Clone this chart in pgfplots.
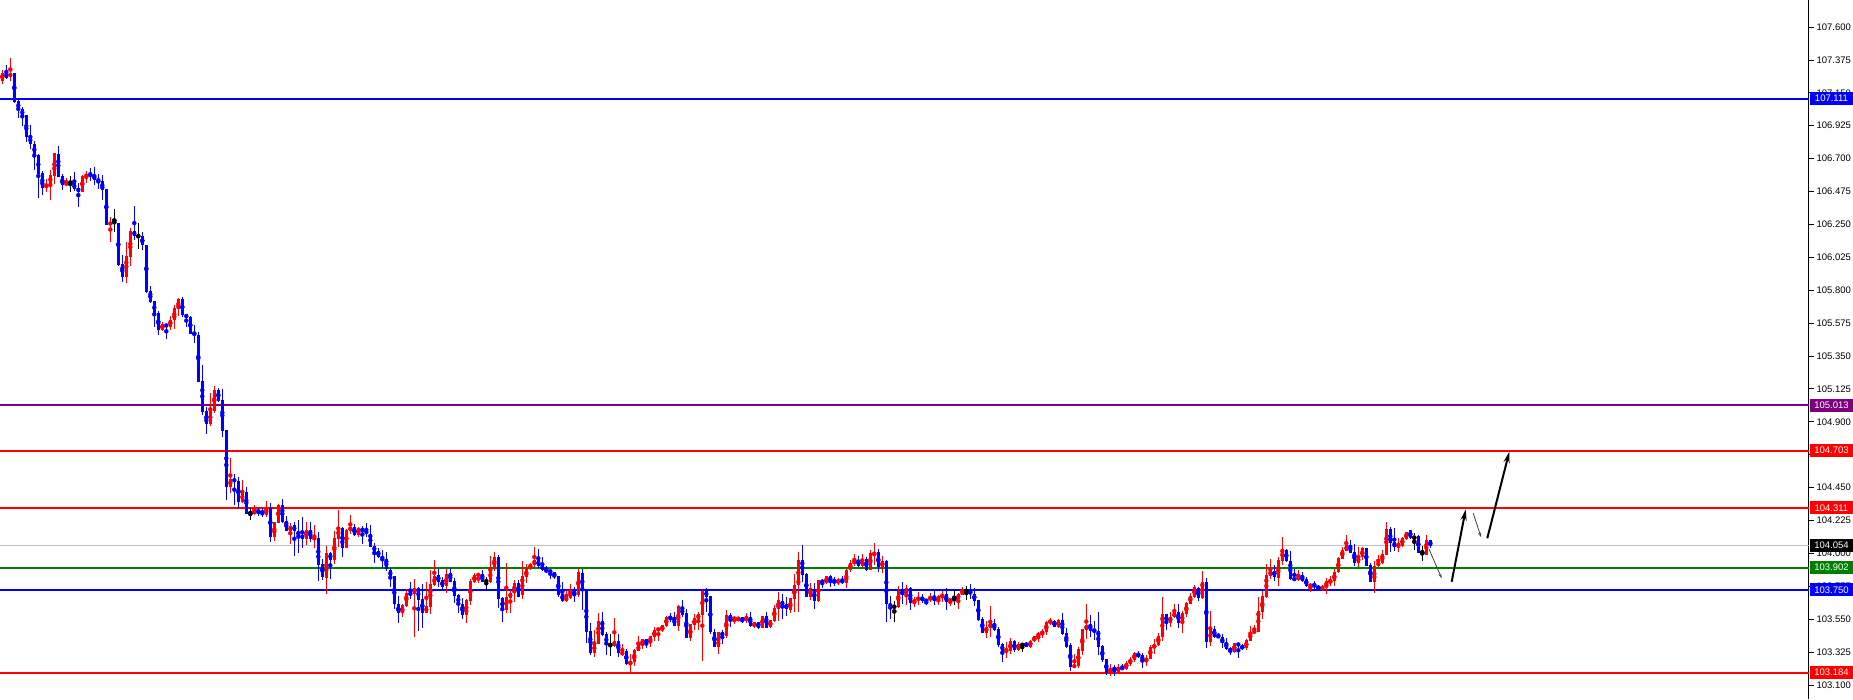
\documentclass[border=0pt]{standalone}
\usepackage{fontspec}
\setmainfont{Liberation Sans}
\usepackage{pgfplots}
\pgfplotsset{compat=1.18}
\usepackage{pgfplotstable}
\usetikzlibrary{arrows.meta}

\definecolor{mtred}{RGB}{255,0,0}
\definecolor{mtblue}{RGB}{0,0,255}
\definecolor{mtgreen}{RGB}{0,128,0}
\definecolor{mtpurple}{RGB}{128,0,128}
\definecolor{mtgray}{RGB}{192,192,192}

% candle index, open, high, low, close
\pgfplotstableread{
i o h l c
0 107.233 107.306 107.212 107.290
1 107.290 107.340 107.247 107.253
2 107.260 107.388 107.233 107.285
3 107.285 107.285 107.082 107.089
4 107.094 107.101 106.980 107.034
5 107.039 107.053 106.925 106.993
6 106.998 106.998 106.816 106.850
7 106.854 106.930 106.768 106.802
8 106.804 106.820 106.624 106.720
9 106.724 106.731 106.433 106.597
10 106.601 106.613 106.453 106.503
11 106.501 106.558 106.474 106.526
12 106.528 106.622 106.419 106.588
13 106.583 106.738 106.528 106.738
14 106.731 106.786 106.576 106.576
15 106.581 106.594 106.487 106.521
16 106.521 106.567 106.515 106.540
17 106.537 106.581 106.474 106.528
18 106.533 106.608 106.483 106.492
19 106.499 106.531 106.371 106.474
20 106.471 106.590 106.469 106.583
21 106.576 106.615 106.535 106.594
22 106.594 106.638 106.549 106.581
23 106.588 106.642 106.521 106.556
24 106.563 106.597 106.492 106.544
25 106.547 106.590 106.419 106.487
26 106.492 106.492 106.248 106.248
27 106.248 106.300 106.132 106.266
28 106.266 106.355 106.200 106.262
29 106.259 106.259 105.965 105.972
30 105.979 106.040 105.858 105.890
31 105.890 106.129 105.851 106.034
32 106.029 106.227 105.967 106.207
33 106.205 106.378 106.141 106.173
34 106.168 106.259 106.084 106.168
35 106.175 106.198 106.077 106.107
36 106.109 106.109 105.783 105.787
37 105.794 105.828 105.714 105.719
38 105.723 105.723 105.550 105.639
39 105.644 105.660 105.495 105.530
40 105.530 105.582 105.523 105.568
41 105.568 105.573 105.468 105.550
42 105.550 105.628 105.532 105.596
43 105.594 105.701 105.537 105.678
44 105.673 105.749 105.625 105.739
45 105.739 105.753 105.619 105.630
46 105.635 105.637 105.550 105.612
47 105.619 105.623 105.502 105.502
48 105.514 105.562 105.441 105.495
49 105.495 105.514 105.174 105.174
50 105.179 105.288 104.946 104.969
51 104.974 105.004 104.819 104.887
52 104.883 105.099 104.874 104.981
53 104.974 105.145 104.963 105.118
54 105.118 105.129 105.038 105.045
55 105.049 105.129 104.798 104.839
56 104.844 104.844 104.365 104.456
57 104.456 104.652 104.415 104.509
58 104.509 104.543 104.331 104.491
59 104.495 104.525 104.313 104.352
60 104.352 104.502 104.342 104.420
61 104.420 104.454 104.272 104.272
62 104.276 104.308 104.231 104.272
63 104.272 104.329 104.265 104.301
64 104.297 104.308 104.260 104.279
65 104.283 104.313 104.251 104.265
66 104.265 104.356 104.247 104.310
67 104.310 104.342 104.078 104.114
68 104.114 104.215 104.087 104.215
69 104.210 104.338 104.206 104.331
70 104.331 104.374 104.212 104.212
71 104.222 104.256 104.155 104.155
72 104.155 104.212 104.067 104.187
73 104.194 104.219 103.984 104.151
74 104.155 104.228 104.003 104.121
75 104.128 104.251 104.039 104.101
76 104.101 104.215 104.060 104.160
77 104.160 104.215 104.076 104.101
78 104.094 104.194 104.039 104.114
79 104.105 104.144 103.813 103.921
80 103.927 103.959 103.818 103.841
81 103.834 104.053 103.720 104.003
82 104.003 104.012 103.827 103.957
83 103.957 104.153 103.930 104.105
84 104.101 104.297 104.046 104.181
85 104.176 104.183 103.973 104.039
86 104.039 104.167 104.037 104.160
87 104.155 104.263 104.133 104.183
88 104.183 104.201 104.121 104.126
89 104.126 104.183 104.114 104.176
90 104.176 104.192 104.069 104.149
91 104.155 104.212 104.112 104.137
92 104.133 104.192 104.046 104.046
93 104.053 104.069 103.937 104.012
94 104.019 104.035 103.966 103.978
95 103.984 104.023 103.898 103.955
96 103.962 104.007 103.880 103.891
97 103.886 103.898 103.772 103.841
98 103.845 103.845 103.617 103.658
99 103.654 103.709 103.522 103.590
100 103.590 103.654 103.563 103.647
101 103.642 103.761 103.636 103.731
102 103.731 103.806 103.688 103.717
103 103.722 103.822 103.426 103.763
104 103.763 103.768 103.471 103.681
105 103.688 103.795 103.492 103.594
106 103.594 103.804 103.590 103.640
107 103.635 103.886 103.588 103.790
108 103.786 103.959 103.777 103.845
109 103.850 103.893 103.772 103.806
110 103.816 103.836 103.749 103.772
111 103.777 103.891 103.731 103.859
112 103.863 103.898 103.802 103.806
113 103.811 103.831 103.663 103.711
114 103.715 103.722 103.590 103.651
115 103.654 103.695 103.553 103.581
116 103.578 103.688 103.526 103.681
117 103.674 103.825 103.649 103.811
118 103.806 103.866 103.795 103.852
119 103.847 103.859 103.795 103.859
120 103.859 103.886 103.802 103.806
121 103.811 103.836 103.754 103.811
122 103.806 103.982 103.795 103.895
123 103.891 104.009 103.879 103.975
124 103.975 103.989 103.624 103.690
125 103.695 103.704 103.533 103.613
126 103.613 103.934 103.597 103.702
127 103.697 103.749 103.595 103.733
128 103.731 103.816 103.665 103.800
129 103.797 103.818 103.702 103.706
130 103.713 103.948 103.686 103.845
131 103.841 103.925 103.795 103.895
132 103.895 103.932 103.886 103.927
133 103.923 104.046 103.909 103.955
134 103.955 104.030 103.904 103.914
135 103.920 103.973 103.879 103.884
136 103.893 103.914 103.866 103.873
137 103.888 103.898 103.825 103.868
138 103.875 103.875 103.822 103.841
139 103.845 103.845 103.699 103.717
140 103.722 103.804 103.670 103.676
141 103.676 103.749 103.670 103.702
142 103.697 103.788 103.686 103.747
143 103.747 103.772 103.670 103.715
144 103.715 103.893 103.704 103.873
145 103.868 103.895 103.613 103.749
146 103.749 103.749 103.385 103.464
147 103.471 103.524 103.303 103.321
148 103.321 103.476 103.293 103.385
149 103.380 103.590 103.380 103.537
150 103.537 103.601 103.437 103.442
151 103.448 103.464 103.305 103.371
152 103.371 103.453 103.300 103.371
153 103.366 103.560 103.362 103.401
154 103.401 103.448 103.296 103.316
155 103.305 103.380 103.298 103.332
156 103.332 103.346 103.236 103.243
157 103.243 103.316 103.186 103.261
158 103.259 103.346 103.230 103.339
159 103.334 103.435 103.332 103.373
160 103.371 103.414 103.346 103.414
161 103.412 103.412 103.355 103.389
162 103.389 103.432 103.362 103.432
163 103.430 103.496 103.403 103.476
164 103.474 103.494 103.403 103.487
165 103.476 103.510 103.460 103.508
166 103.503 103.574 103.499 103.567
167 103.565 103.590 103.531 103.551
168 103.567 103.599 103.503 103.503
169 103.505 103.647 103.471 103.640
170 103.631 103.681 103.567 103.576
171 103.590 103.619 103.423 103.423
172 103.423 103.521 103.403 103.515
173 103.508 103.583 103.476 103.556
174 103.551 103.599 103.476 103.585
175 103.578 103.749 103.264 103.745
176 103.745 103.763 103.597 103.704
177 103.706 103.711 103.451 103.460
178 103.462 103.483 103.357 103.362
179 103.362 103.460 103.312 103.460
180 103.460 103.476 103.380 103.437
181 103.432 103.613 103.421 103.578
182 103.578 103.594 103.499 103.549
183 103.549 103.572 103.517 103.560
184 103.546 103.562 103.537 103.562
185 103.562 103.562 103.524 103.537
186 103.540 103.590 103.521 103.572
187 103.569 103.597 103.499 103.503
188 103.503 103.531 103.492 103.531
189 103.531 103.535 103.483 103.492
190 103.492 103.572 103.492 103.572
191 103.572 103.599 103.494 103.494
192 103.494 103.544 103.492 103.544
193 103.540 103.645 103.533 103.629
194 103.624 103.736 103.540 103.681
195 103.672 103.722 103.551 103.647
196 103.651 103.704 103.572 103.619
197 103.613 103.695 103.590 103.695
198 103.690 103.863 103.601 103.788
199 103.784 104.009 103.601 103.955
200 103.955 104.059 103.806 103.852
201 103.859 103.868 103.699 103.704
202 103.704 103.795 103.681 103.761
203 103.761 103.800 103.622 103.676
204 103.676 103.818 103.670 103.818
205 103.818 103.827 103.768 103.797
206 103.795 103.845 103.788 103.843
207 103.845 103.852 103.770 103.809
208 103.820 103.836 103.777 103.804
209 103.804 103.834 103.781 103.818
210 103.822 103.843 103.788 103.797
211 103.797 103.893 103.763 103.886
212 103.886 103.955 103.873 103.932
213 103.927 103.996 103.916 103.955
214 103.955 103.982 103.909 103.916
215 103.914 103.996 103.909 103.959
216 103.959 103.977 103.882 103.886
217 103.886 104.023 103.886 104.002
218 103.989 104.071 103.920 104.009
219 104.009 104.030 103.875 103.909
220 103.909 103.982 103.868 103.948
221 103.948 103.955 103.533 103.654
222 103.658 103.708 103.551 103.635
223 103.635 103.674 103.533 103.640
224 103.635 103.777 103.624 103.745
225 103.745 103.804 103.656 103.715
226 103.711 103.784 103.645 103.763
227 103.763 103.770 103.613 103.663
228 103.663 103.699 103.635 103.683
229 103.679 103.736 103.645 103.702
230 103.702 103.720 103.663 103.676
231 103.683 103.683 103.649 103.672
232 103.681 103.727 103.665 103.702
233 103.702 103.749 103.649 103.676
234 103.674 103.713 103.645 103.708
235 103.702 103.743 103.670 103.722
236 103.722 103.763 103.613 103.670
237 103.674 103.699 103.640 103.688
238 103.688 103.749 103.647 103.683
239 103.686 103.731 103.619 103.720
240 103.717 103.772 103.715 103.745
241 103.745 103.777 103.681 103.745
242 103.745 103.790 103.686 103.720
243 103.727 103.763 103.640 103.676
244 103.681 103.681 103.540 103.544
245 103.551 103.562 103.458 103.458
246 103.458 103.540 103.423 103.496
247 103.492 103.640 103.426 103.521
248 103.521 103.551 103.471 103.476
249 103.480 103.499 103.362 103.373
250 103.380 103.385 103.257 103.328
251 103.328 103.394 103.284 103.339
252 103.332 103.419 103.312 103.401
253 103.401 103.407 103.323 103.339
254 103.339 103.398 103.334 103.380
255 103.375 103.391 103.328 103.375
256 103.387 103.396 103.360 103.362
257 103.362 103.407 103.357 103.403
258 103.398 103.435 103.394 103.435
259 103.428 103.462 103.394 103.458
260 103.449 103.485 103.424 103.469
261 103.465 103.540 103.442 103.533
262 103.526 103.558 103.510 103.540
263 103.540 103.544 103.497 103.499
264 103.494 103.549 103.490 103.544
265 103.544 103.592 103.442 103.449
266 103.453 103.490 103.355 103.362
267 103.373 103.385 103.198 103.225
268 103.221 103.312 103.214 103.237
269 103.232 103.357 103.214 103.346
270 103.332 103.487 103.305 103.483
271 103.478 103.654 103.414 103.510
272 103.510 103.579 103.430 103.471
273 103.476 103.538 103.408 103.465
274 103.469 103.599 103.305 103.362
275 103.369 103.373 103.255 103.271
276 103.278 103.278 103.170 103.180
277 103.175 103.243 103.164 103.214
278 103.225 103.237 103.164 103.196
279 103.191 103.241 103.180 103.225
280 103.225 103.241 103.200 103.207
281 103.212 103.262 103.205 103.253
282 103.246 103.294 103.230 103.278
283 103.271 103.326 103.259 103.321
284 103.323 103.332 103.284 103.289
285 103.303 103.316 103.218 103.269
286 103.264 103.305 103.232 103.284
287 103.280 103.376 103.275 103.362
288 103.355 103.412 103.314 103.376
289 103.371 103.458 103.367 103.437
290 103.430 103.704 103.403 103.585
291 103.585 103.585 103.476 103.526
292 103.526 103.601 103.499 103.567
293 103.563 103.654 103.560 103.597
294 103.597 103.654 103.492 103.524
295 103.524 103.606 103.458 103.595
296 103.590 103.670 103.567 103.663
297 103.658 103.731 103.654 103.711
298 103.704 103.786 103.699 103.768
299 103.768 103.772 103.677 103.699
300 103.695 103.880 103.690 103.804
301 103.804 103.829 103.355 103.396
302 103.396 103.608 103.367 103.481
303 103.481 103.503 103.419 103.430
304 103.442 103.458 103.419 103.424
305 103.430 103.449 103.351 103.385
306 103.389 103.419 103.341 103.348
307 103.355 103.362 103.305 103.326
308 103.326 103.389 103.321 103.385
309 103.385 103.389 103.287 103.369
310 103.369 103.380 103.339 103.348
311 103.351 103.412 103.339 103.408
312 103.403 103.503 103.398 103.462
313 103.453 103.510 103.451 103.476
314 103.465 103.704 103.465 103.606
315 103.601 103.740 103.551 103.708
316 103.704 103.932 103.697 103.852
317 103.845 103.959 103.824 103.886
318 103.881 103.918 103.811 103.840
319 103.834 103.977 103.779 103.954
320 103.950 104.114 103.920 104.032
321 104.023 104.030 103.943 103.948
322 103.948 104.016 103.822 103.827
323 103.831 103.893 103.813 103.818
324 103.818 103.886 103.811 103.845
325 103.845 103.875 103.806 103.813
326 103.824 103.836 103.772 103.777
327 103.772 103.799 103.738 103.790
328 103.790 103.813 103.756 103.772
329 103.779 103.786 103.745 103.758
330 103.754 103.786 103.742 103.772
331 103.772 103.829 103.726 103.811
332 103.795 103.847 103.779 103.818
333 103.811 103.893 103.779 103.875
334 103.870 103.977 103.863 103.970
335 103.966 104.046 103.959 104.023
336 104.018 104.125 104.016 104.055
337 104.055 104.091 104.000 104.005
338 104.009 104.064 103.913 103.936
339 103.936 104.046 103.909 103.977
340 103.973 104.046 103.954 104.039
341 104.039 104.039 103.913 103.913
342 103.920 103.936 103.804 103.804
343 103.804 103.950 103.726 103.918
344 103.913 103.993 103.909 103.943
345 103.938 104.023 103.932 103.995
346 103.991 104.214 103.986 104.164
347 104.164 104.182 104.011 104.073
348 104.078 104.176 104.014 104.041
349 104.046 104.109 104.011 104.057
350 104.052 104.114 104.046 104.107
351 104.100 104.146 104.091 104.146
352 104.160 104.164 104.103 104.107
353 104.107 104.137 104.025 104.112
354 104.119 104.125 104.000 104.005
355 104.009 104.050 103.950 104.000
356 103.993 104.123 103.989 104.091
357 104.091 104.093 104.039 104.052
}\candles

\pgfplotsset{
  wick/.style={only marks, mark=none, #1,
    error bars/.cd, y dir=both, y explicit, error mark=none,
    error bar style={line width=1pt, #1}},
  body/.style={only marks, mark=none, #1,
    error bars/.cd, y dir=both, y explicit, error mark=none,
    error bar style={line width=3pt, #1}},
}

\begin{document}
\begin{tikzpicture}
\fill[white] (0,0) rectangle (1853pt,699pt);
\begin{axis}[
  at={(0,0)}, anchor=south west,
  width=1809pt, height=699pt, scale only axis,
  xmin=-0.575, xmax=451.675,
  ymin=103.004, ymax=107.785,
  axis x line=none,
  axis y line*=right,
  y axis line style={black, line width=1pt},
  tick align=outside,
  major tick length=5pt,
  ytick style={black, line width=0.8pt},
  ytick={103.1,103.325,103.55,103.775,104,104.225,104.45,104.675,104.9,105.125,105.35,105.575,105.8,106.025,106.25,106.475,106.7,106.925,107.15,107.375,107.6},
  scaled y ticks=false,
  yticklabel style={font=\fontsize{9.5}{11}\selectfont, text=black, xshift=-1pt,
    /pgf/number format/fixed, /pgf/number format/fixed zerofill,
    /pgf/number format/precision=3, /pgf/number format/assume math mode=true},
]
% level lines
\addplot[mtblue, line width=2pt] coordinates {(-1,107.111) (452,107.111)};
\addplot[mtpurple, line width=2pt] coordinates {(-1,105.013) (452,105.013)};
\addplot[mtred, line width=2pt] coordinates {(-1,104.703) (452,104.703)};
\addplot[mtred, line width=2pt] coordinates {(-1,104.311) (452,104.311)};
\addplot[mtgray, line width=1pt] coordinates {(-1,104.054) (452,104.054)};
\addplot[mtgreen, line width=2pt] coordinates {(-1,103.902) (452,103.902)};
\addplot[mtblue, line width=2pt] coordinates {(-1,103.750) (452,103.750)};
\addplot[mtred, line width=2pt] coordinates {(-1,103.184) (452,103.184)};

% candles: wicks then bodies, one pair per colour
\addplot[wick=mtred] table[x=i,
  y expr={\thisrow{c}>\thisrow{o} ? (\thisrow{h}+\thisrow{l})/2 : nan},
  y error expr={max((\thisrow{h}-\thisrow{l})/2,0.0035)}] {\candles};
\addplot[body=mtred] table[x=i,
  y expr={\thisrow{c}>\thisrow{o} ? (\thisrow{o}+\thisrow{c})/2 : nan},
  y error expr={max(abs(\thisrow{c}-\thisrow{o})/2,0.0035)}] {\candles};
\addplot[wick=mtblue] table[x=i,
  y expr={\thisrow{c}<\thisrow{o} ? (\thisrow{h}+\thisrow{l})/2 : nan},
  y error expr={max((\thisrow{h}-\thisrow{l})/2,0.0035)}] {\candles};
\addplot[body=mtblue] table[x=i,
  y expr={\thisrow{c}<\thisrow{o} ? (\thisrow{o}+\thisrow{c})/2 : nan},
  y error expr={max(abs(\thisrow{c}-\thisrow{o})/2,0.0035)}] {\candles};
\addplot[wick=black] table[x=i,
  y expr={\thisrow{c}==\thisrow{o} ? (\thisrow{h}+\thisrow{l})/2 : nan},
  y error expr={max((\thisrow{h}-\thisrow{l})/2,0.0035)}] {\candles};
\addplot[body=black] table[x=i,
  y expr={\thisrow{c}==\thisrow{o} ? \thisrow{o} : nan},
  y error expr={0.0035}] {\candles};

% hand-drawn forecast arrows
\addplot[black!75, line width=0.8pt, -{Stealth[length=5pt,width=3pt]}]
  coordinates {(356.7,104.028) (359.85,103.829)};
\addplot[black, line width=2pt, -{Stealth[length=11pt,width=6pt]}]
  coordinates {(362.35,103.806) (365.85,104.301)};
\addplot[black!75, line width=0.8pt, -{Stealth[length=5pt,width=3pt]}]
  coordinates {(367.75,104.274) (369.7,104.110)};
\addplot[black, line width=2pt, -{Stealth[length=11pt,width=6pt]}]
  coordinates {(371.25,104.103) (376.75,104.695)};

\coordinate (L1) at (axis cs:451.675,107.111);
\coordinate (L2) at (axis cs:451.675,105.013);
\coordinate (L3) at (axis cs:451.675,104.703);
\coordinate (L4) at (axis cs:451.675,104.311);
\coordinate (L5) at (axis cs:451.675,104.054);
\coordinate (L6) at (axis cs:451.675,103.902);
\coordinate (L7) at (axis cs:451.675,103.750);
\coordinate (L8) at (axis cs:451.675,103.184);
\end{axis}
\foreach \p/\v/\col in {L1/107.111/mtblue, L2/105.013/mtpurple, L3/104.703/mtred,
    L4/104.311/mtred, L5/104.054/black, L6/103.902/mtgreen, L7/103.750/mtblue,
    L8/103.184/mtred}
  \node[fill=\col, text=white, anchor=west, inner sep=0pt, xshift=0.5pt,
    minimum width=43.5pt, minimum height=13pt,
    font=\fontsize{9.5}{11}\selectfont] at (\p) {\v};
\pgfresetboundingbox
\path[use as bounding box] (0,0) rectangle (1853pt,699pt);
\end{tikzpicture}
\end{document}
